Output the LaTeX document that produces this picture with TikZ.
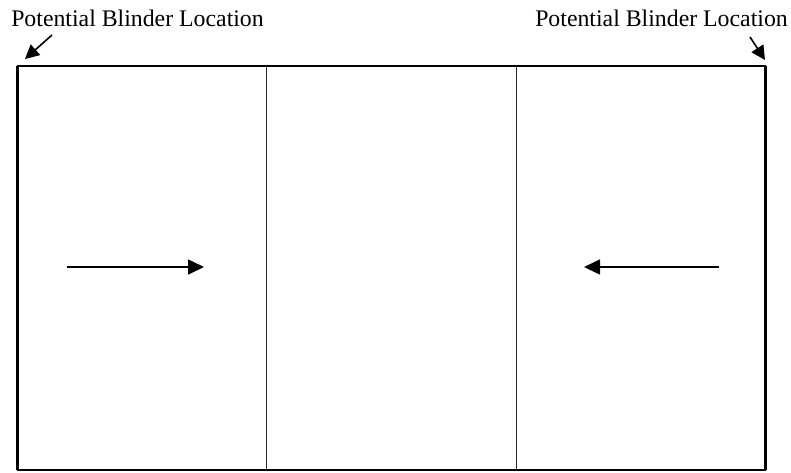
\documentclass[tikz,border=0pt]{standalone}
\usepackage{fontspec}
\setmainfont{Liberation Serif}
\usetikzlibrary{arrows.meta}
\tikzset{
  lbl/.style={inner sep=0pt,anchor=base,font=\fontsize{23.8}{26}\selectfont},
  flow/.style={line width=1.6pt,-{Triangle[length=16pt,width=15pt]}},
  hint/.style={line width=1.6pt,-{Triangle[length=14pt,width=14pt]}}
}
\begin{document}
\begin{tikzpicture}[x=1pt,y=-1pt,join=round] % channel with flow arrows
        \useasboundingbox (0,0) rectangle (791,472);
        % outer frame and dividers
        \draw[line width=2pt](17,66)--(766,66);
        \draw[line width=2pt](17,470)--(766,470);
        \draw[line width=2.8pt](17.5,66)--(17.5,470);
        \draw[line width=2.8pt](765.5,66)--(765.5,470);
        \draw[line width=0.9pt,black!85](266,66)--(266,470);
        \draw[line width=0.9pt,black!85](516,66)--(516,470);
        % flow arrows
        \coordinate (fl0) at (67,267);
        \coordinate (fl1) at (204,267);
        \coordinate (fr0) at (719,267);
        \coordinate (fr1) at (584,267);
        \draw[flow](fl0)--(fl1);
        \draw[flow](fr0)--(fr1);
        % blinder labels
        \node[lbl] (bl) at (137.5,26) {Potential Blinder Location};
        \node[lbl] (br) at (661.5,26) {Potential Blinder Location};
        \coordinate (cl) at (25,59);
        \coordinate (cr) at (765,60);
        \draw[hint](52,35)--(cl);
        \draw[hint](750,37)--(cr);
\end{tikzpicture}
\end{document}
